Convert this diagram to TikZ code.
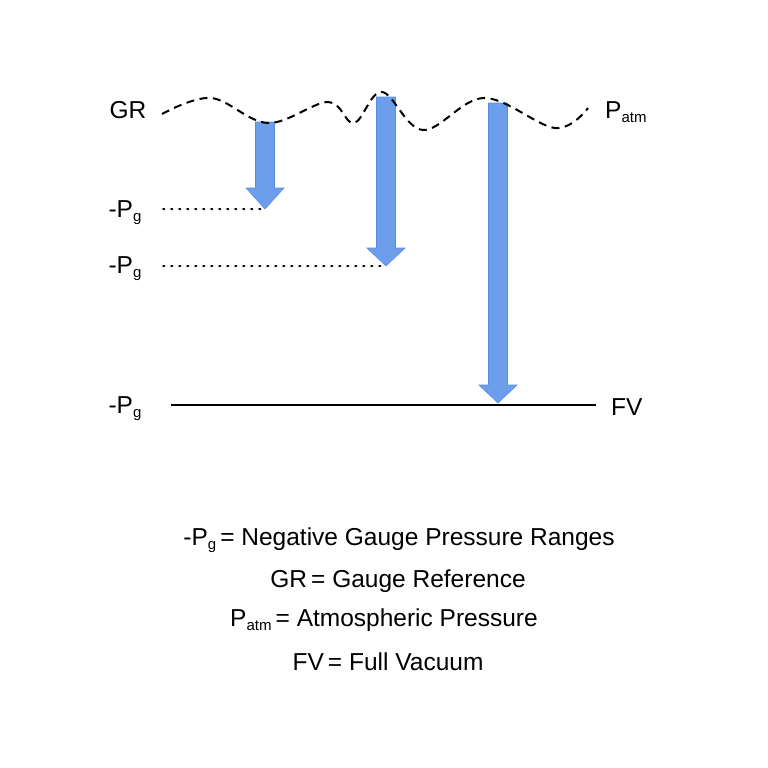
\documentclass[tikz,border=0pt]{standalone}
\usepackage{fontspec}
\setmainfont{Liberation Sans}
\usetikzlibrary{positioning}

\newcommand{\lowsub}[1]{\raisebox{-0.3ex}{\fontsize{15}{15}\selectfont #1}}
\definecolor{barblue}{HTML}{6D9EEB}
\definecolor{baredge}{HTML}{5A8CE2}

\begin{document}
\begin{tikzpicture}[x=1pt, y=-1pt, font=\fontsize{24.5}{28}\selectfont,
    lbl/.style={inner sep=0pt},
    blockarrow/.style={fill=barblue, draw=baredge, line width=0.6pt}]
    \useasboundingbox (0,0) rectangle (768,768);

    % Side labels
    \node[lbl] (gr) at (128,110) {GR};
    \node[lbl, anchor=west] (patm) at (605,112) {P\lowsub{atm}};
    \node[lbl] (pgone) at (125,213) {-P\lowsub{g}};
    \node[lbl] (pgtwo) at (125,269) {-P\lowsub{g}};
    \node[lbl] (pgthree) at (125,409) {-P\lowsub{g}};
    \node[lbl, anchor=west] (fv) at (611,407) {FV};

    % Block arrows
    \foreach \x/\top/\neck/\tip [count=\i] in {265/122/188/209, 386/97/248/266, 498/103/385/403} {
        \fill[blockarrow] (\x-9.5,\top) -- (\x+9.5,\top) -- (\x+9.5,\neck) -- (\x+19,\neck)
            -- (\x,\tip) -- (\x-19,\neck) -- (\x-9.5,\neck) -- cycle;
        \coordinate (tip\i) at (\x,\tip);
    }

    % Gauge reference (wavy)
    \draw[line width=2pt, dash pattern=on 8pt off 5.5pt]
        plot[smooth, tension=0.6] coordinates {(162,114) (211,98) (268,123) (328,102) (354,123)
        (382,92) (423,130) (484,98) (555,128) (588,108)};

    % Levels
    \coordinate (dotone) at (163,209);
    \coordinate (dottwo) at (163,266);
    \draw[line width=1.5pt, dash pattern=on 1.5pt off 6.5pt, line cap=round] (dotone) -- (tip1);
    \draw[line width=1.5pt, dash pattern=on 1.5pt off 6.5pt, line cap=round] (dottwo) -- (tip2);
    \coordinate (vacstart) at (171,405);
    \coordinate (vacend) at (596,405);
    \draw[line width=2pt] (vacstart) -- (vacend);

    % Legend
    \node[lbl] (keypg) at (399,540) {-P\lowsub{g}\,= Negative Gauge Pressure Ranges};
    \node[lbl] (keygr) at (398,581) {GR\,= Gauge Reference};
    \node[lbl] (keyatm) at (384,620) {P\lowsub{atm}\,= Atmospheric Pressure};
    \node[lbl] (keyfv) at (388,662) {FV\,= Full Vacuum};
\end{tikzpicture}
\end{document}
